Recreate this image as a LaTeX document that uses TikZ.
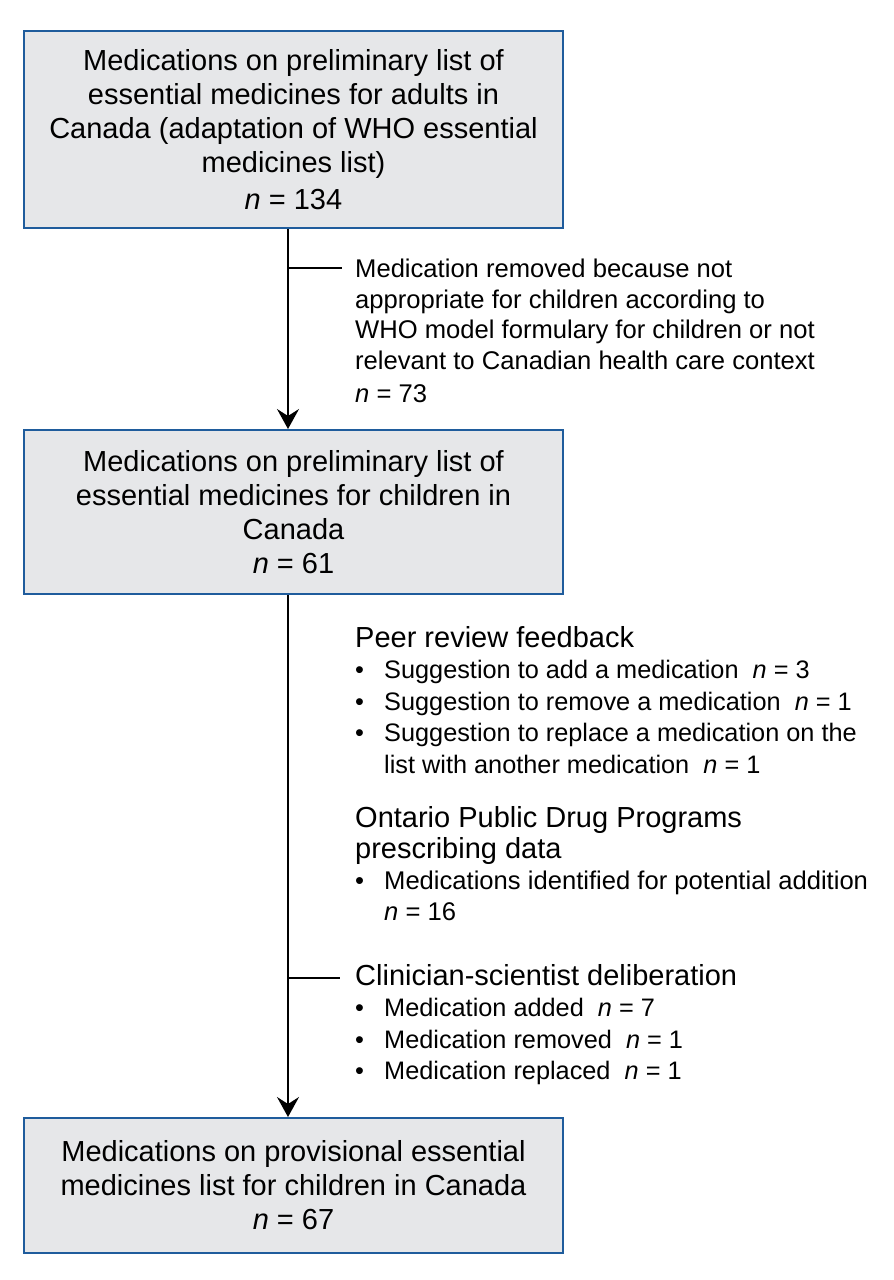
\documentclass[tikz,border=0pt]{standalone}
\usepackage{fontspec}
\setmainfont{Liberation Sans}
\usetikzlibrary{arrows.meta}
\definecolor{boxfill}{HTML}{E6E7E9}
\definecolor{boxline}{HTML}{1F5C9C}
\begin{document}
\begin{tikzpicture}[x=1pt,y=-1pt,
  mainbox/.style={draw=boxline, line width=2pt, fill=boxfill, minimum width=539pt,
    align=center, inner sep=0pt, font=\fontsize{29}{34}\selectfont},
  sidetext/.style={anchor=north west, align=left, inner sep=0pt},
  flow/.style={line width=1.8pt, -{Stealth[length=20pt,width=22pt,inset=7pt]}},
  branch/.style={line width=1.6pt}]
\useasboundingbox (0,0) rectangle (894,1280);
\node[mainbox, minimum height=197pt] (b1) at (293.5,129.5)
  {Medications on preliminary list of\\essential medicines for adults in\\Canada (adaptation of WHO essential\\medicines list)\\[3pt]\textit{n} = 134};
\node[mainbox, minimum height=164pt] (b2) at (293.5,512)
  {Medications on preliminary list of\\essential medicines for children in\\Canada\\\textit{n} = 61};
\node[mainbox, minimum height=135pt] (b3) at (293.5,1185.5)
  {Medications on provisional essential\\medicines list for children in Canada\\\textit{n} = 67};

\draw[flow] (b1.south -| 288,0) -- (b2.north -| 288,0);
\draw[flow] (b2.south -| 288,0) -- (b3.north -| 288,0);

\coordinate (j1) at (288,268);
\coordinate (e1) at (342,268);
\draw[branch] (j1) -- (e1);
\coordinate (j2) at (288,978);
\coordinate (e2) at (340,978);
\draw[branch] (j2) -- (e2);

\node[sidetext, font=\fontsize{25.6}{30.5}\selectfont] (rem) at (355,259)
  {Medication removed because not\\appropriate for children according to\\WHO model formulary for children or not\\relevant to Canadian health care context\\[3pt]\textit{n} = 73};

\node[sidetext, font=\fontsize{25.3}{31.5}\selectfont] (peer) at (355,626)
  {{\fontsize{29}{31.5}\selectfont Peer review feedback}\\
  \makebox[29pt][l]{\textbullet}Suggestion to add a medication\ \ \textit{n} = 3\\
  \makebox[29pt][l]{\textbullet}Suggestion to remove a medication\ \ \textit{n} = 1\\
  \makebox[29pt][l]{\textbullet}Suggestion to replace a medication on the\\
  \hspace*{29pt}list with another medication\ \ \textit{n} = 1};

\node[sidetext, font=\fontsize{25.6}{31}\selectfont] (ont) at (355,806)
  {{\fontsize{29}{35}\selectfont Ontario Public Drug Programs}\\
  {\fontsize{29}{33}\selectfont prescribing data}\\
  \makebox[29pt][l]{\textbullet}Medications identified for potential addition\\
  \hspace*{29pt}\textit{n} = 16};

\node[sidetext, font=\fontsize{25.3}{31.5}\selectfont] (clin) at (355,964)
  {{\fontsize{29}{31.5}\selectfont Clinician-scientist deliberation}\\
  \makebox[29pt][l]{\textbullet}Medication added\ \ \textit{n} = 7\\
  \makebox[29pt][l]{\textbullet}Medication removed\ \ \textit{n} = 1\\
  \makebox[29pt][l]{\textbullet}Medication replaced\ \ \textit{n} = 1};
\end{tikzpicture}
\end{document}
